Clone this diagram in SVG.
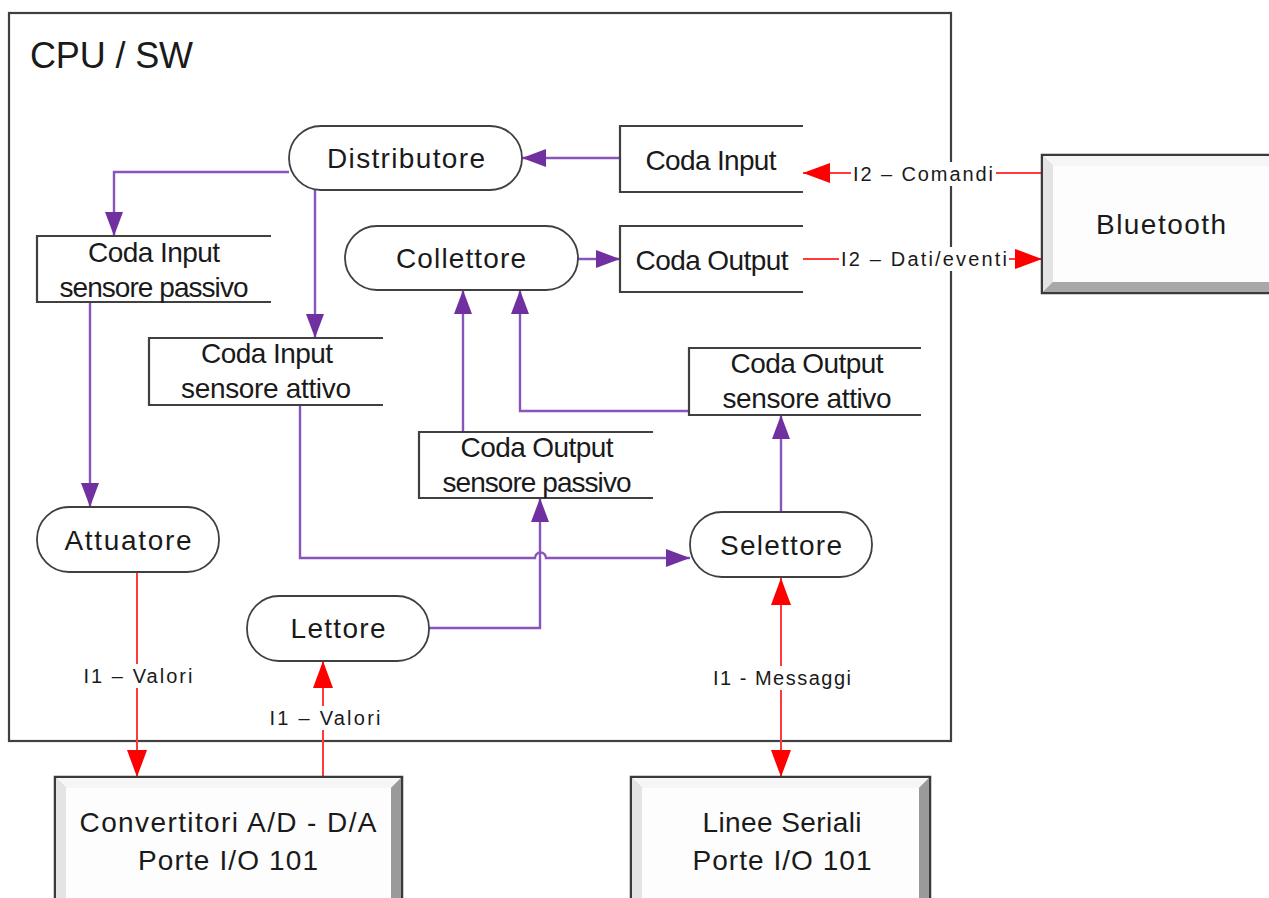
<svg xmlns="http://www.w3.org/2000/svg" width="1269" height="898" viewBox="0 0 1269 898">
<style>
text{font-family:"Liberation Sans",Arial,sans-serif;fill:#1a1a1a}
.t{font-size:28px;text-anchor:middle}
.l{font-size:20px;text-anchor:middle}
.node{fill:#fff;stroke:#404040;stroke-width:1.8}
.q{fill:none;stroke:#404040;stroke-width:2.2}
.pl{fill:none;stroke:#8a55bb;stroke-width:2.4}
.rl{fill:none;stroke:#ff3a3a;stroke-width:2}
.lbg{fill:#fff}
.bo{fill:#b8b8b8;stroke:#3a3a3a;stroke-width:2.5}
.bt{fill:#f6f6f6}
.bl{fill:#e4e4e4}
.br{fill:#9a9a9a}
.bb{fill:#a8a8a8}
.bf{fill:#fdfdfd}
</style>
<defs>
<marker id="pa" markerUnits="userSpaceOnUse" markerWidth="26" markerHeight="20" refX="24" refY="10" orient="auto">
<path d="M0,1 L24,10 L0,19 z" fill="#7030A0"/>
</marker>
<marker id="ra" markerUnits="userSpaceOnUse" markerWidth="28" markerHeight="22" refX="27" refY="11" orient="auto-start-reverse">
<path d="M0,1 L27,11 L0,21 z" fill="#ff0000"/>
</marker>
</defs>
<rect width="1269" height="898" fill="#fff"/>

<g id="cpu">
<rect x="9" y="13" width="942" height="728" fill="none" stroke="#404040" stroke-width="2.2"/>
<text x="30" y="68" font-size="36" textLength="163">CPU / SW</text>
</g>

<g id="connectors">
<path class="pl" d="M620,158 H522" marker-end="url(#pa)"/>
<path class="pl" d="M289,172 H114 V236" marker-end="url(#pa)"/>
<path class="pl" d="M315,190 V338" marker-end="url(#pa)"/>
<path class="pl" d="M578,259 H620" marker-end="url(#pa)"/>
<path class="pl" d="M90,302 V507" marker-end="url(#pa)"/>
<path class="pl" d="M463,432 V290" marker-end="url(#pa)"/>
<path class="pl" d="M689,411 H520 V290" marker-end="url(#pa)"/>
<path class="pl" d="M781,512 V415" marker-end="url(#pa)"/>
<path class="pl" d="M300,405 V558 H535 A5.5,5.5 0 0 1 546,558 H690" marker-end="url(#pa)"/>
<path class="pl" d="M429,628 H540 V498" marker-end="url(#pa)"/>
<path class="rl" d="M137,573 V777" marker-end="url(#ra)"/>
<path class="rl" d="M323,777 V661" marker-end="url(#ra)"/>
<path class="rl" d="M781,578 V777" marker-start="url(#ra)" marker-end="url(#ra)"/>
<path class="rl" d="M1042,173 H803" marker-end="url(#ra)"/>
<path class="rl" d="M803,259 H1042" marker-end="url(#ra)"/>
<rect class="lbg" x="82" y="664" width="112" height="24"/>
<text class="l" x="138" y="683" textLength="109">I1 – Valori</text>
<rect class="lbg" x="267" y="706" width="115" height="24"/>
<text class="l" x="325" y="725" textLength="111">I1 – Valori</text>
<rect class="lbg" x="711" y="666" width="142" height="24"/>
<text class="l" x="782" y="685" textLength="138">I1 - Messaggi</text>
<rect class="lbg" x="851" y="162" width="145" height="24"/>
<text class="l" x="923" y="181" textLength="140">I2 – Comandi</text>
<rect class="lbg" x="839" y="247" width="170" height="24"/>
<text class="l" x="924" y="266" textLength="166">I2 – Dati/eventi</text>
</g>

<g id="distributore">
<rect class="node" x="289" y="126" width="233" height="64" rx="32"/>
<text class="t" x="406" y="168" textLength="158">Distributore</text>
</g>
<g id="coda-input">
<path class="q" d="M803,126 H620 V192 H803"/>
<text class="t" x="711" y="170" textLength="131">Coda Input</text>
</g>
<g id="collettore">
<rect class="node" x="345" y="226" width="233" height="64" rx="32"/>
<text class="t" x="461" y="268" textLength="130">Collettore</text>
</g>
<g id="coda-output">
<path class="q" d="M803,226 H620 V292 H803"/>
<text class="t" x="712" y="270" textLength="153">Coda Output</text>
</g>
<g id="coda-input-sp">
<path class="q" d="M271,236 H37 V302 H271"/>
<text class="t" x="154" y="262" textLength="132">Coda Input</text>
<text class="t" x="154" y="297" textLength="189">sensore passivo</text>
</g>
<g id="coda-input-sa">
<path class="q" d="M383,338 H149 V405 H383"/>
<text class="t" x="267" y="363" textLength="132">Coda Input</text>
<text class="t" x="266" y="398" textLength="170">sensore attivo</text>
</g>
<g id="coda-output-sa">
<path class="q" d="M921,348 H689 V415 H921"/>
<text class="t" x="807" y="373" textLength="153">Coda Output</text>
<text class="t" x="807" y="408" textLength="169">sensore attivo</text>
</g>
<g id="coda-output-sp">
<path class="q" d="M653,432 H419 V498 H653"/>
<text class="t" x="537" y="457" textLength="153">Coda Output</text>
<text class="t" x="537" y="492" textLength="189">sensore passivo</text>
</g>
<g id="selettore">
<rect class="node" x="690" y="512" width="182" height="65" rx="32"/>
<text class="t" x="781" y="555" textLength="122">Selettore</text>
</g>
<g id="attuatore">
<rect class="node" x="37" y="507" width="182" height="65" rx="32"/>
<text class="t" x="128" y="550" textLength="127">Attuatore</text>
</g>
<g id="lettore">
<rect class="node" x="247" y="596" width="182" height="65" rx="32"/>
<text class="t" x="338" y="638" textLength="95">Lettore</text>
</g>

<g id="convertitori">
<rect class="bo" x="55" y="777" width="347" height="140"/>
<polygon class="bt" points="56,778 401,778 391,788 66,788"/>
<polygon class="bl" points="56,778 66,788 66,906 56,916"/>
<polygon class="br" points="401,778 401,916 391,906 391,788"/>
<rect class="bf" x="66" y="788" width="325" height="118"/>
<text class="t" x="228" y="832" textLength="297">Convertitori A/D - D/A</text>
<text class="t" x="228" y="870" textLength="180">Porte I/O 101</text>
</g>
<g id="linee-seriali">
<rect class="bo" x="631" y="777" width="299" height="140"/>
<polygon class="bt" points="632,778 929,778 919,788 642,788"/>
<polygon class="bl" points="632,778 642,788 642,906 632,916"/>
<polygon class="br" points="929,778 929,916 919,906 919,788"/>
<rect class="bf" x="642" y="788" width="277" height="118"/>
<text class="t" x="782" y="832" textLength="159">Linee Seriali</text>
<text class="t" x="782" y="870" textLength="179">Porte I/O 101</text>
</g>
<g id="bluetooth">
<rect class="bo" x="1042" y="155" width="250" height="138"/>
<polygon class="bt" points="1043,156 1291,156 1281,166 1053,166"/>
<polygon class="bl" points="1043,156 1053,166 1053,282 1043,292"/>
<polygon class="bb" points="1043,292 1053,282 1291,282 1291,292"/>
<rect class="bf" x="1053" y="166" width="238" height="116"/>
<text class="t" x="1161" y="234" textLength="130">Bluetooth</text>
</g>
</svg>
